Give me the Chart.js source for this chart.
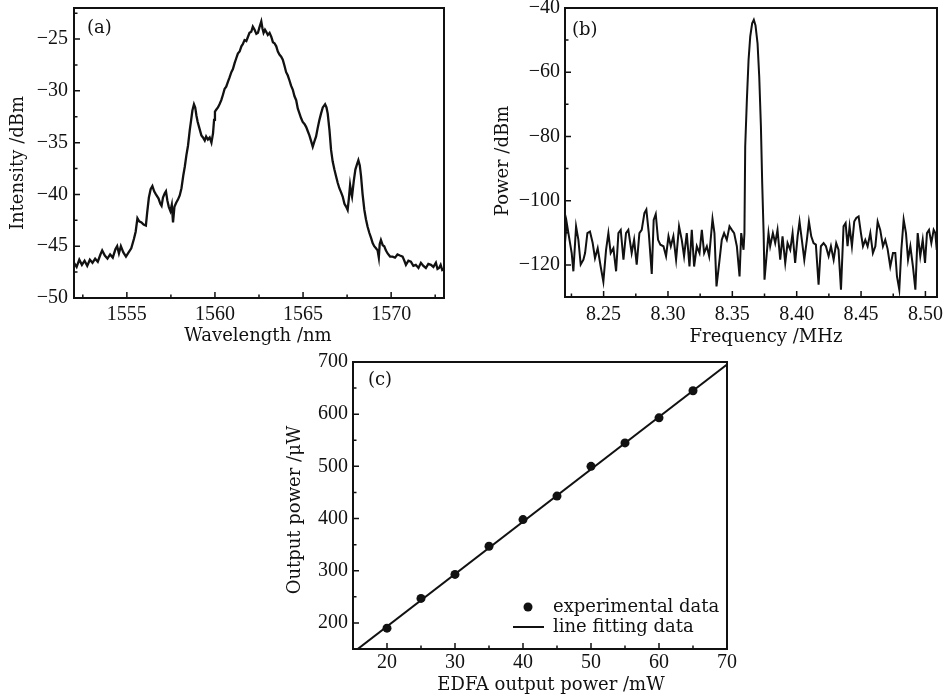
<!DOCTYPE html>
<html>
<head>
<meta charset="utf-8">
<script src="https://cdn.jsdelivr.net/npm/chart.js@4.4.1/dist/chart.umd.min.js"></script>
<style>
  body { margin: 0; background: #fff; }
  #wrap { position: relative; width: 949px; height: 696px; overflow: hidden; background: #fff; }
  canvas { position: absolute; }
</style>
</head>
<body>
<div id="wrap">
  <canvas id="chartA" width="460" height="350" style="left:0;top:0"></canvas>
  <canvas id="chartB" width="489" height="350" style="left:460px;top:0"></canvas>
  <canvas id="chartC" width="480" height="356" style="left:270px;top:340px"></canvas>
</div>
<script>
// (a) optical spectrum
const wavelength = [
  1552.0, 1552.15, 1552.3, 1552.45, 1552.6, 1552.75, 1552.9, 1553.05, 1553.2, 1553.35,
  1553.5, 1553.6, 1553.75, 1553.9, 1554.05, 1554.2, 1554.35, 1554.45, 1554.55, 1554.66,
  1554.8, 1554.95, 1555.1, 1555.25, 1555.4, 1555.5, 1555.6, 1555.7, 1555.83, 1555.95,
  1556.08, 1556.15, 1556.25, 1556.35, 1556.45, 1556.55, 1556.65, 1556.8, 1556.9, 1556.97,
  1557.05, 1557.15, 1557.22, 1557.3, 1557.38, 1557.47, 1557.55, 1557.62, 1557.7, 1557.8,
  1557.9, 1558.0, 1558.1, 1558.2, 1558.29, 1558.38, 1558.47, 1558.57, 1558.65, 1558.72,
  1558.81, 1558.88, 1558.95, 1559.02, 1559.1, 1559.23, 1559.32, 1559.42, 1559.5, 1559.6,
  1559.7, 1559.8, 1559.89, 1559.95, 1560.0, 1560.08, 1560.17, 1560.26, 1560.36, 1560.45,
  1560.55, 1560.64, 1560.74, 1560.83, 1560.93, 1561.02, 1561.12, 1561.2, 1561.3, 1561.4,
  1561.5, 1561.58, 1561.68, 1561.78, 1561.87, 1561.96, 1562.06, 1562.15, 1562.25, 1562.35,
  1562.44, 1562.52, 1562.63, 1562.7, 1562.76, 1562.84, 1562.91, 1563.0, 1563.1, 1563.2,
  1563.29, 1563.38, 1563.48, 1563.57, 1563.66, 1563.76, 1563.85, 1563.95, 1564.04, 1564.13,
  1564.23, 1564.32, 1564.42, 1564.51, 1564.61, 1564.7, 1564.8, 1564.88, 1564.98, 1565.08,
  1565.18, 1565.27, 1565.36, 1565.45, 1565.55, 1565.64, 1565.74, 1565.83, 1565.93, 1566.02,
  1566.12, 1566.25, 1566.33, 1566.4, 1566.5, 1566.59, 1566.68, 1566.78, 1566.88, 1566.97,
  1567.06, 1567.16, 1567.25, 1567.35, 1567.45, 1567.53, 1567.6, 1567.67, 1567.73, 1567.78,
  1567.88, 1567.97, 1568.06, 1568.14, 1568.22, 1568.29, 1568.38, 1568.48, 1568.57, 1568.66,
  1568.76, 1568.86, 1568.95, 1569.04, 1569.14, 1569.23, 1569.3, 1569.35, 1569.42, 1569.52,
  1569.61, 1569.7, 1569.8, 1569.94, 1570.08, 1570.22, 1570.36, 1570.5, 1570.65, 1570.75,
  1570.84, 1570.98, 1571.12, 1571.26, 1571.4, 1571.55, 1571.69, 1571.83, 1571.97, 1572.11,
  1572.26, 1572.4, 1572.54, 1572.63, 1572.72, 1572.81, 1572.9, 1573.0
];
const intensity = [
  -46.6, -47.0, -46.3, -46.8, -46.4, -46.9, -46.3, -46.6, -46.2, -46.5,
  -45.8, -45.4, -45.9, -46.2, -45.8, -46.1, -45.3, -45.0, -45.7, -45.0,
  -45.6, -46.0, -45.6, -45.2, -44.3, -43.6, -42.3, -42.6, -42.7, -42.9,
  -43.0, -41.8, -40.3, -39.5, -39.2, -39.7, -40.0, -40.4, -40.9, -41.1,
  -40.3, -39.9, -39.7, -40.6, -41.2, -41.6, -41.0, -42.7, -41.2, -40.8,
  -40.5, -40.1, -39.4, -38.2, -37.3, -36.2, -35.3, -33.8, -32.8, -31.9,
  -31.3, -31.6, -32.4, -33.0, -33.5, -34.3, -34.5, -34.8, -34.4, -34.7,
  -34.5, -35.0, -34.1, -32.8, -32.0, -31.8, -31.6, -31.3, -30.9, -30.4,
  -29.8, -29.6, -29.1, -28.7, -28.2, -27.9, -27.3, -26.9, -26.4, -26.2,
  -25.7, -25.5, -25.1, -25.2, -24.8, -24.4, -24.3, -23.8, -24.1, -24.5,
  -24.4, -23.9, -23.3, -24.0, -24.4, -24.1, -24.3, -24.6, -24.4, -24.8,
  -25.3, -25.4, -25.7, -26.2, -26.5, -26.7, -27.0, -27.6, -28.2, -28.5,
  -29.0, -29.5, -29.9, -30.5, -30.9, -31.7, -32.2, -32.6, -33.0, -33.2,
  -33.5, -33.9, -34.3, -34.8, -35.4, -34.9, -34.4, -33.6, -32.8, -32.2,
  -31.6, -31.3, -31.6, -32.2, -33.8, -35.7, -36.8, -37.6, -38.3, -38.9,
  -39.4, -39.8, -40.2, -40.9, -41.2, -41.5, -40.4, -39.1, -39.8, -40.2,
  -38.7, -37.6, -37.1, -36.7, -37.2, -38.2, -40.0, -41.5, -42.4, -43.1,
  -43.7, -44.2, -44.7, -45.0, -45.2, -45.4, -46.1, -44.8, -44.4, -44.9,
  -45.0, -45.4, -45.7, -46.0, -46.0, -46.1, -45.8, -45.9, -46.0, -46.4,
  -46.8, -46.4, -46.5, -46.9, -46.8, -47.1, -46.6, -46.9, -47.1, -46.7,
  -46.8, -47.0, -46.6, -47.2, -47.1, -46.8, -47.3, -47.2
];

// (b) RF spectrum
const frequency = [
  8.2200, 8.2213, 8.2234, 8.2252, 8.2265, 8.2286, 8.2304, 8.2322, 8.2343, 8.2356,
  8.2374, 8.2394, 8.2415, 8.2433, 8.2454, 8.2477, 8.2498, 8.2519, 8.2537, 8.2555,
  8.2576, 8.2597, 8.2615, 8.2633, 8.2654, 8.2674, 8.2692, 8.2718, 8.2737, 8.2757,
  8.2778, 8.2796, 8.2817, 8.2832, 8.2851, 8.2874, 8.2889, 8.2905, 8.2923, 8.2941,
  8.2965, 8.2985, 8.3004, 8.3022, 8.3042, 8.3063, 8.3086, 8.3107, 8.3125, 8.3146,
  8.3167, 8.3185, 8.3203, 8.3224, 8.3245, 8.3263, 8.3281, 8.3302, 8.3320, 8.3346,
  8.3361, 8.3377, 8.3398, 8.3418, 8.3436, 8.3457, 8.3478, 8.3496, 8.3514, 8.3535,
  8.3556, 8.3569, 8.3587, 8.3594, 8.3600, 8.3613, 8.3626, 8.3639, 8.3654, 8.3667,
  8.3680, 8.3696, 8.3709, 8.3722, 8.3732, 8.3743, 8.3750, 8.3781, 8.3794, 8.3815,
  8.3833, 8.3851, 8.3872, 8.3890, 8.3911, 8.3929, 8.3950, 8.3968, 8.3988, 8.4007,
  8.4022, 8.4040, 8.4059, 8.4079, 8.4095, 8.4113, 8.4131, 8.4149, 8.4170, 8.4188,
  8.4209, 8.4227, 8.4248, 8.4266, 8.4287, 8.4307, 8.4325, 8.4344, 8.4364, 8.4380,
  8.4395, 8.4411, 8.4429, 8.4447, 8.4463, 8.4481, 8.4499, 8.4515, 8.4533, 8.4551,
  8.4572, 8.4592, 8.4611, 8.4629, 8.4649, 8.4670, 8.4688, 8.4706, 8.4727, 8.4748,
  8.4766, 8.4779, 8.4797, 8.4813, 8.4831, 8.4849, 8.4865, 8.4883, 8.4903, 8.4922,
  8.4940, 8.4960, 8.4979, 8.4997, 8.5012, 8.5028, 8.5046, 8.5064, 8.5077, 8.5088
];
const power = [
  -113.0, -106.8, -112.0, -116.3, -122.0, -108.0, -112.2, -119.9, -118.4, -116.3,
  -110.1, -109.6, -113.2, -117.9, -114.8, -120.5, -125.2, -115.3, -110.1, -116.3,
  -114.8, -122.0, -110.1, -109.1, -118.4, -110.1, -109.1, -116.3, -112.2, -119.9,
  -110.1, -109.1, -103.9, -102.8, -110.1, -122.8, -106.0, -104.2, -112.2, -113.7,
  -114.2, -117.3, -111.1, -114.2, -111.1, -118.4, -108.0, -112.2, -117.3, -110.1,
  -120.5, -109.1, -120.5, -114.2, -116.3, -109.1, -116.3, -114.2, -117.3, -105.7,
  -110.1, -126.7, -119.4, -112.2, -110.1, -112.2, -108.0, -109.1, -110.1, -114.2,
  -123.6, -110.1, -115.3, -110.1, -83.1, -68.6, -56.2, -48.9, -44.8, -43.7,
  -45.4, -51.1, -61.4, -76.9, -94.5, -110.0, -124.6, -110.1, -114.2, -110.1,
  -113.2, -109.1, -118.4, -111.1, -119.4, -113.2, -115.3, -110.1, -119.4, -111.1,
  -106.5, -112.2, -118.4, -112.2, -106.5, -111.1, -113.2, -113.7, -126.2, -114.2,
  -113.2, -114.2, -117.3, -114.2, -118.4, -113.2, -115.3, -127.7, -108.0, -107.0,
  -114.2, -108.0, -114.2, -106.5, -105.4, -104.9, -110.1, -114.2, -112.2, -114.2,
  -110.1, -116.3, -114.2, -106.5, -109.1, -114.2, -112.2, -115.0, -120.5, -116.3,
  -116.3, -123.6, -127.7, -115.3, -105.9, -110.1, -118.4, -114.2, -120.5, -127.7,
  -110.1, -117.3, -112.2, -119.4, -110.1, -109.1, -113.2, -109.1, -110.1, -115.3
];

// (c) output power vs EDFA power
const edfaPower = [20, 25, 30, 35, 40, 45, 50, 55, 60, 65];
const outputPower = [190, 247, 293, 347, 398, 443, 500, 545, 593, 645];
const fitX = [15, 70];
const fitY = [143, 695];

const INK = "#111";
Chart.defaults.font.family = "Liberation Serif";
Chart.defaults.font.size = 20;
Chart.defaults.color = INK;

const TEXT_FONT = "18px 'DejaVu Serif'";

function minus(v) {
  return String(v).replace("-", "\u2212");
}

function toPoints(xs, ys) {
  return xs.map((x, i) => ({ x: x, y: ys[i] }));
}

// frame box, inward major/minor ticks, panel label and axis titles
const frame = {
  id: "frame",
  afterDatasetsDraw(chart, args, opts) {
    const { ctx, chartArea: a, scales } = chart;
    ctx.save();
    ctx.strokeStyle = INK;
    ctx.lineWidth = 1.5;
    ctx.beginPath();
    [["x", opts.xMinor], ["y", opts.yMinor]].forEach(([id, step]) => {
      const s = scales[id];
      const first = Math.ceil(s.min / step - 1e-6);
      const last = Math.floor(s.max / step + 1e-6);
      for (let i = first; i <= last; i++) {
        const len = i % 2 === 0 ? 6 : 3.5;
        const p = s.getPixelForValue(i * step);
        if (id === "x") {
          ctx.moveTo(p, a.bottom);
          ctx.lineTo(p, a.bottom - len);
        } else {
          ctx.moveTo(a.left, p);
          ctx.lineTo(a.left + len, p);
        }
      }
    });
    ctx.stroke();
    ctx.lineWidth = 2;
    ctx.strokeRect(a.left, a.top, a.right - a.left, a.bottom - a.top);

    ctx.fillStyle = INK;
    ctx.font = TEXT_FONT;
    ctx.textBaseline = "middle";
    ctx.textAlign = "left";
    ctx.fillText(opts.label, a.left + opts.labelDx, a.top + opts.labelDy);

    // axis titles
    ctx.textAlign = "center";
    const xt = opts.xTitle, yt = opts.yTitle;
    ctx.fillText(xt.text, xt.x, xt.y);
    ctx.translate(yt.x, yt.y);
    ctx.rotate(-Math.PI / 2);
    ctx.fillText(yt.text, 0, 0);
    ctx.restore();
  }
};

// legend drawn inside the plot area of (c)
const innerLegend = {
  id: "innerLegend",
  afterDatasetsDraw(chart, args, opts) {
    if (!opts.show) return;
    const { ctx, chartArea: a } = chart;
    ctx.save();
    ctx.fillStyle = INK;
    ctx.strokeStyle = INK;
    ctx.font = TEXT_FONT;
    ctx.textBaseline = "middle";
    chart.data.datasets.forEach((ds, i) => {
      const y = a.bottom - opts.bottom + i * opts.rowGap;
      const cx = a.left + opts.symbolX;
      if (ds.showLine === false) {
        ctx.beginPath();
        ctx.arc(cx, y, ds.pointRadius, 0, Math.PI * 2);
        ctx.fill();
      } else {
        ctx.lineWidth = ds.borderWidth;
        ctx.beginPath();
        ctx.moveTo(cx - 15, y);
        ctx.lineTo(cx + 16, y);
        ctx.stroke();
      }
      ctx.fillText(ds.label, a.left + opts.textX, y);
    });
    ctx.restore();
  }
};

function axis(o) {
  return {
    type: "linear",
    min: o.min,
    max: o.max,
    grid: { display: false, drawTicks: false, tickLength: 0 },
    border: { display: false },
    ticks: {
      stepSize: o.step,
      includeBounds: false,
      autoSkip: false,
      maxRotation: 0,
      padding: o.tickPad,
      font: { family: "Liberation Serif", size: 20 },
      callback: o.fmt || ((v) => minus(v))
    },
    afterFit(scale) {
      if (o.vertical) {
        scale.width = o.size;
        scale.paddingTop = 0;
        scale.paddingBottom = 0;
      } else {
        scale.height = o.size;
        scale.paddingLeft = 0;
        scale.paddingRight = 0;
      }
    }
  };
}

function baseOptions(pad, xAxis, yAxis, frameOpts, legendOpts) {
  return {
    responsive: false,
    animation: false,
    layout: { padding: pad },
    elements: { line: { tension: 0 } },
    plugins: {
      legend: { display: false },
      tooltip: { enabled: false },
      frame: frameOpts,
      innerLegend: legendOpts || { show: false }
    },
    scales: { x: xAxis, y: yAxis }
  };
}

new Chart(document.getElementById("chartA"), {
  type: "line",
  data: {
    datasets: [{
      label: "Intensity",
      data: toPoints(wavelength, intensity),
      borderColor: INK,
      borderWidth: 2.3,
      pointRadius: 0
    }]
  },
  options: baseOptions(
    { top: 8, right: 16, left: 0, bottom: 0 },
    axis({ min: 1552, max: 1573, step: 5, size: 52, tickPad: 5 }),
    axis({ min: -50, max: -22, step: 5, size: 74, tickPad: 6, vertical: true }),
    {
      xMinor: 2.5, yMinor: 2.5, label: "(a)", labelDx: 13, labelDy: 20,
      xTitle: { text: "Wavelength /nm", x: 258, y: 336 },
      yTitle: { text: "Intensity /dBm", x: 18, y: 163 }
    }
  ),
  plugins: [frame, innerLegend]
});

new Chart(document.getElementById("chartB"), {
  type: "line",
  data: {
    datasets: [{
      label: "Power",
      data: toPoints(frequency, power),
      borderColor: INK,
      borderWidth: 2,
      pointRadius: 0
    }]
  },
  options: baseOptions(
    { top: 8, right: 12, left: 0, bottom: 0 },
    axis({ min: 8.22, max: 8.509, step: 0.05, size: 53, tickPad: 6, fmt: (v) => v.toFixed(2) }),
    axis({ min: -130, max: -40, step: 20, size: 105, tickPad: 5, vertical: true }),
    {
      xMinor: 0.025, yMinor: 10, label: "(b)", labelDx: 7, labelDy: 22,
      xTitle: { text: "Frequency /MHz", x: 306, y: 337 },
      yTitle: { text: "Power /dBm", x: 43, y: 161 }
    }
  ),
  plugins: [frame, innerLegend]
});

new Chart(document.getElementById("chartC"), {
  type: "scatter",
  data: {
    datasets: [
      {
        label: "experimental data",
        data: toPoints(edfaPower, outputPower),
        showLine: false,
        pointRadius: 4.5,
        pointBackgroundColor: INK,
        pointBorderWidth: 0
      },
      {
        label: "line fitting data",
        data: toPoints(fitX, fitY),
        showLine: true,
        borderColor: INK,
        borderWidth: 2,
        pointRadius: 0
      }
    ]
  },
  options: baseOptions(
    { top: 22, right: 23, left: 0, bottom: 0 },
    axis({ min: 15, max: 70, step: 10, size: 47, tickPad: 2 }),
    axis({ min: 150, max: 700, step: 100, size: 83, tickPad: 5, vertical: true }),
    {
      xMinor: 5, yMinor: 50, label: "(c)", labelDx: 15, labelDy: 18,
      xTitle: { text: "EDFA output power /mW", x: 281, y: 345 },
      yTitle: { text: "Output power /\u03bcW", x: 25, y: 170 }
    },
    { show: true, bottom: 42, rowGap: 20, symbolX: 175, textX: 200 }
  ),
  plugins: [frame, innerLegend]
});
</script>
</body>
</html>
